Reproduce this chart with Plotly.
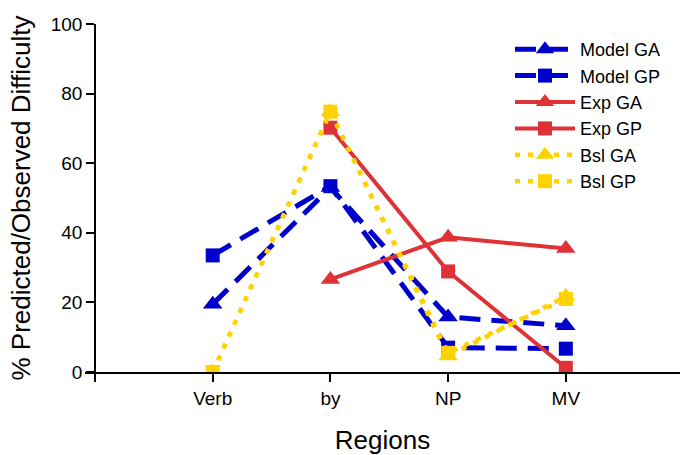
import plotly.graph_objects as go

regions = ["Verb", "by", "NP", "MV"]
x_pos = [1, 2, 3, 4]

model_ga = [19.5, 53.0, 15.8, 13.3]
model_gp = [33.5, 53.4, 7.0, 6.7]
exp_ga = [None, 26.6, 38.7, 35.5]
exp_gp = [None, 70.2, 28.9, 1.2]
bsl_ga = [0.0, 74.8, 4.6, 21.7]
bsl_gp = [0.0, 74.8, 5.5, 21.0]

BLUE = "rgb(0,0,204)"
RED = "rgb(222,50,55)"
YELLOW = "rgb(255,210,0)"

series = [
    ("Model GA", model_ga, BLUE, "21px,11px", 5, "triangle-up", 17),
    ("Model GP", model_gp, BLUE, "21px,11px", 5, "square", 14),
    ("Exp GA", exp_ga, RED, "solid", 4, "triangle-up", 17),
    ("Exp GP", exp_gp, RED, "solid", 4, "square", 14),
    ("Bsl GA", bsl_ga, YELLOW, "5px,8px", 4.5, "triangle-up", 17),
    ("Bsl GP", bsl_gp, YELLOW, "5px,8px", 4.5, "square", 14),
]

fig = go.Figure()
for name, vals, col, dash, w, sym, sz in series:
    fig.add_trace(go.Scatter(
        x=x_pos, y=vals, name=name, mode="lines+markers",
        line=dict(color=col, width=w, dash=dash),
        marker=dict(color=col, symbol=sym, size=sz),
        connectgaps=False,
    ))

L, R = 85, 680
T, B = 24, 372
xmin, xmax = -0.085, 4.97
fig.update_layout(
    width=681, height=455,
    margin=dict(l=L, r=681 - R, t=T, b=455 - B),
    paper_bgcolor="white", plot_bgcolor="white",
    font=dict(family="Liberation Sans, Arial, sans-serif", size=19, color="black"),
    showlegend=True,
    legend=dict(x=(510 - L) / (R - L), y=(B - 31) / (B - T), xanchor="left", yanchor="top",
                font=dict(size=18), bgcolor="rgba(0,0,0,0)", itemwidth=60,
                tracegroupgap=0),
    xaxis=dict(range=[xmin, xmax], tickvals=[0] + x_pos, ticktext=[""] + regions,
               showline=True, linecolor="black", linewidth=1.5,
               ticks="outside", ticklen=8, tickcolor="black", tickwidth=1.5,
               showgrid=False, zeroline=False, tickfont=dict(size=19),
               title=dict(text="Regions", font=dict(size=26), standoff=23),
               automargin=False),
    yaxis=dict(range=[0, 100], tickvals=[0, 20, 40, 60, 80, 100],
               anchor="free", position=(95 - L) / (R - L),
               showline=True, linecolor="black", linewidth=1.5,
               ticks="outside", ticklen=8, tickcolor="black", tickwidth=1.5,
               showgrid=False, zeroline=False, tickfont=dict(size=19),
               title=dict(text="% Predicted/Observed Difficulty", font=dict(size=26), standoff=12),
               automargin=False),
)
fig.write_html("out.html")
